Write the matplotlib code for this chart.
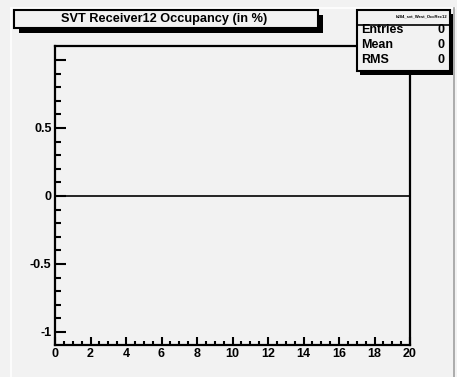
import matplotlib
matplotlib.use("Agg")
import matplotlib.pyplot as plt
from matplotlib.patches import Rectangle
from matplotlib.lines import Line2D

# ---- data ----
bin_edges = [0, 1, 2, 3, 4, 5, 6, 7, 8, 9, 10, 11, 12, 13, 14, 15, 16, 17, 18, 19, 20]
counts = [0, 0, 0, 0, 0, 0, 0, 0, 0, 0, 0, 0, 0, 0, 0, 0, 0, 0, 0, 0]
x_ticks = [0, 2, 4, 6, 8, 10, 12, 14, 16, 18, 20]
x_ticklabels = ["0", "2", "4", "6", "8", "10", "12", "14", "16", "18", "20"]
y_ticks = [-1, -0.5, 0, 0.5, 1]
y_ticklabels = ["-1", "-0.5", "0", "0.5", ""]
title = "SVT Receiver12 Occupancy (in %)"
hist_name = "h284_svt_West_OccRec12"
stat_names = ["Entries", "Mean", "RMS"]
stat_values = ["0", "0", "0"]

W, H = 457, 377
BG = "#f2f2f2"
FONT = "Liberation Sans"

fig = plt.figure(figsize=(W / 100, H / 100), dpi=100, facecolor=BG)

def fx(x):
    return x / W

def fy(y):
    return 1 - y / H

# axes placement (pixels)
L, R, T, B = 55, 410, 46, 345
ax = fig.add_axes([fx(L), fy(B), fx(R - L), (B - T) / H])
ax.set_facecolor(BG)

ax.stairs(counts, bin_edges, color="black", linewidth=1.2, baseline=None)
ax.set_xlim(0, 20)
ax.set_ylim(-1.096, 1.103)

ax.set_xticks(x_ticks)
ax.set_xticklabels(x_ticklabels)
ax.set_yticks(y_ticks)
ax.set_yticklabels(y_ticklabels)
ax.set_xticks([i * 0.5 for i in range(41)], minor=True)
ax.set_yticks([-1.0 + i * 0.1 for i in range(21)], minor=True)

for s in ax.spines.values():
    s.set_linewidth(1.6)
ax.tick_params(axis="both", which="both", direction="in", width=1.5,
               labelsize=9, pad=2.5)
ax.tick_params(axis="x", which="major", length=6)
ax.tick_params(axis="x", which="minor", length=3)
ax.tick_params(axis="y", which="major", length=8)
ax.tick_params(axis="y", which="minor", length=4)
for lab in ax.get_xticklabels() + ax.get_yticklabels():
    lab.set_fontfamily(FONT)
    lab.set_fontweight("bold")

# canvas bevel lines
fig.add_artist(Line2D([fx(11), fx(11)], [fy(8), 0], color="white", linewidth=1.2))
fig.add_artist(Line2D([fx(11), fx(455)], [fy(8), fy(8)], color="white", linewidth=1.2))
fig.add_artist(Line2D([fx(454), fx(454)], [fy(8), 0], color="#a0a0a0", linewidth=1.2))

def box(x0, y0, x1, y1, dx, dy, z):
    # shadow
    fig.add_artist(Rectangle((fx(x0 + dx), fy(y1 + dy)), fx(x1 - x0), (y1 - y0) / H,
                             facecolor="black", edgecolor="none", zorder=z))
    fig.add_artist(Rectangle((fx(x0), fy(y1)), fx(x1 - x0), (y1 - y0) / H,
                             facecolor=BG, edgecolor="black", linewidth=1.5, zorder=z + 1))

# title box
box(14, 10, 318, 28, 5, 5, 10)
fig.text(fx(164), fy(19), title, ha="center", va="center", fontsize=9.2,
         fontweight="bold", fontfamily=FONT, zorder=12)

# stats box
box(357, 10, 450, 71, 3, 4, 10)
fig.add_artist(Line2D([fx(357), fx(450)], [fy(24.5), fy(24.5)], color="black",
                      linewidth=1.2, zorder=13))
fig.text(fx(447), fy(16), hist_name, ha="right", va="center", fontsize=3,
         fontweight="bold", fontfamily=FONT, zorder=12)
row_y = [30, 45, 60]
for name, val, yy in zip(stat_names, stat_values, row_y):
    fig.text(fx(361), fy(yy), name, ha="left", va="center", fontsize=9,
             fontweight="bold", fontfamily=FONT, zorder=12)
    fig.text(fx(445), fy(yy), val, ha="right", va="center", fontsize=9,
             fontweight="bold", fontfamily=FONT, zorder=12)

fig.savefig("out.png", dpi=100, facecolor=BG)
